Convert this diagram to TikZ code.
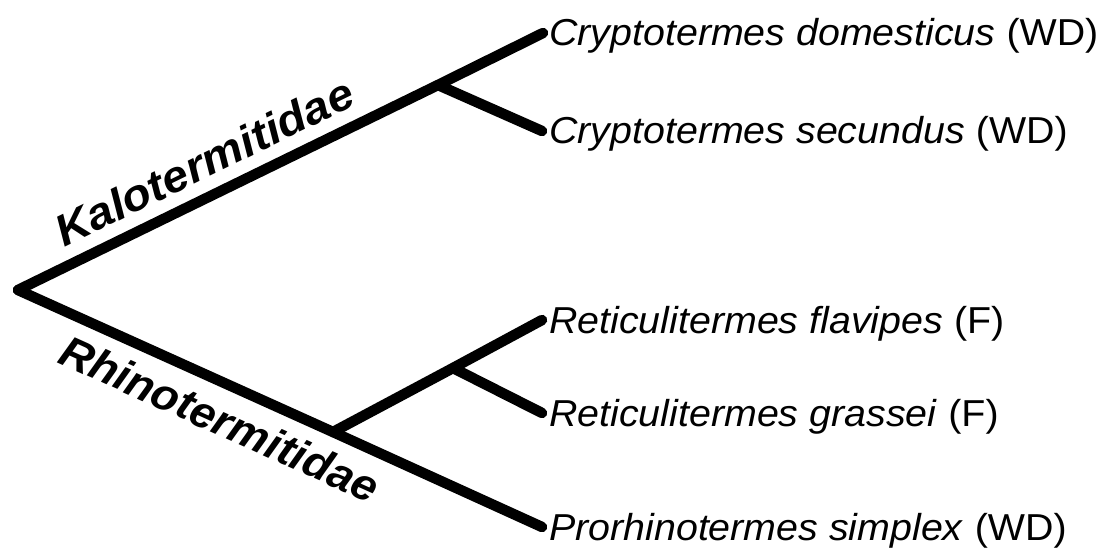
\documentclass[tikz,border=0pt]{standalone}
\usepackage{fontspec}
\setmainfont{Liberation Sans}
\newfontfamily\leaffont[FakeStretch=1.05]{Liberation Sans}
\newfontfamily\cladefont[FakeStretch=1.07]{Liberation Sans}
\newfontfamily\cladefontb[FakeStretch=1.03]{Liberation Sans}
\begin{document}
\begin{tikzpicture}[x=1pt,y=-1pt,
  branch/.style={line width=10.5pt,line cap=round,line join=round},
  leaf/.style={anchor=base west,inner sep=0pt,font=\leaffont\fontsize{37.5}{40}\selectfont},
  clade/.style={anchor=base west,inner sep=0pt,font=\cladefont\fontsize{44}{48}\selectfont\bfseries\itshape},
  cladeb/.style={anchor=base west,inner sep=0pt,font=\cladefontb\fontsize{44}{48}\selectfont\bfseries\itshape}]
\useasboundingbox (0,0) rectangle (1100,549);
% internal nodes and leaf ends
\coordinate (root) at (18,290);
\coordinate (k) at (438,85);
\coordinate (r) at (333,432);
\coordinate (rr) at (453,368);
\coordinate (cd) at (543,33);
\coordinate (cs) at (542,131);
\coordinate (rf) at (542,320);
\coordinate (rg) at (542,413);
\coordinate (ps) at (542,527);
% branches
\draw[branch] (root) -- (k) -- (cd);
\draw[branch] (k) -- (cs);
\draw[branch] (root) -- (r) -- (ps);
\draw[branch] (r) -- (rr) -- (rf);
\draw[branch] (rr) -- (rg);
% leaf labels
\node[leaf] (cdl) at (549,45) {\textit{Cryptotermes domesticus} (WD)};
\node[leaf] (csl) at (549,143) {\textit{Cryptotermes secundus} (WD)};
\node[leaf] (rfl) at (549,333) {\textit{Reticulitermes flavipes} (F)};
\node[leaf] (rgl) at (549,426) {\textit{Reticulitermes grassei} (F)};
\node[leaf] (psl) at (549,540) {\textit{Prorhinotermes simplex} (WD)};
% clade labels
\node[clade,rotate=26.1] (kal) at (64,248) {Kalotermitidae};
\node[cladeb,rotate=-24.3] (rhi) at (56,362) {Rhinotermitidae};
\end{tikzpicture}
\end{document}
